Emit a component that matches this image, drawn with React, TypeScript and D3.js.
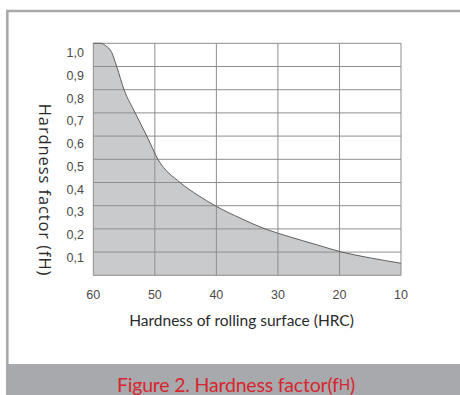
import React from "react";
import * as d3 from "d3";

const hrc = [60, 58.8, 58, 57, 56.2, 55.0, 53.2, 51.3, 49.5, 45.9, 43, 40.2, 36, 32.1, 28.1, 23.5, 19.6, 15, 10];
const factor = [1.0, 1.0, 0.99, 0.96, 0.9, 0.8, 0.7, 0.6, 0.5, 0.4, 0.345, 0.3, 0.245, 0.2, 0.166, 0.13, 0.1, 0.075, 0.052];
const xTicks = [60, 50, 40, 30, 20, 10];
const yTicks = [0.1, 0.2, 0.3, 0.4, 0.5, 0.6, 0.7, 0.8, 0.9, 1.0];
const yTickLabels = ["0,1", "0,2", "0,3", "0,4", "0,5", "0,6", "0,7", "0,8", "0,9", "1,0"];

const W = 460;
const H = 395;
const plot = { left: 93.3, right: 401, top: 43.3, bottom: 275.3 };

export default function App() {
  const x = d3.scaleLinear().domain([60, 10]).range([plot.left, plot.right]);
  const y = d3.scaleLinear().domain([0, 1]).range([plot.bottom, plot.top]);
  const yLabel = d3.scaleLinear().domain([0.1, 1.0]).range([258, 53]);
  const data = hrc.map((h, i) => ({ h, v: factor[i] }));

  const area = d3
    .area<{ h: number; v: number }>()
    .x((d) => x(d.h))
    .y0(y(0))
    .y1((d) => y(d.v))
    .curve(d3.curveMonotoneX);
  const line = d3
    .line<{ h: number; v: number }>()
    .x((d) => x(d.h))
    .y((d) => y(d.v))
    .curve(d3.curveMonotoneX);

  const gridColor = "#8e8e8e";
  const frameColor = "#a8a9ac";

  return (
    <svg
      width={W}
      height={H}
      style={{ position: "absolute", left: 0, top: 0, background: "#fff" }}
    >
      {/* frame */}
      <line x1={6} x2={W} y1={11} y2={11} stroke={frameColor} strokeWidth={2.6} />
      <line x1={7.3} x2={7.3} y1={10} y2={364} stroke={frameColor} strokeWidth={2.6} />
      <rect x={6} y={364} width={W - 6} height={H - 364} fill={frameColor} />

      {/* area */}
      <path d={area(data) || ""} fill="#c9cacc" />

      {/* grid */}
      {yTicks.concat([0]).map((t) => (
        <line
          key={"h" + t}
          x1={plot.left}
          x2={plot.right}
          y1={y(t)}
          y2={y(t)}
          stroke={gridColor}
          strokeWidth={1}
        />
      ))}
      {xTicks.map((t) => (
        <line
          key={"v" + t}
          x1={x(t)}
          x2={x(t)}
          y1={plot.top}
          y2={plot.bottom}
          stroke={gridColor}
          strokeWidth={1}
        />
      ))}

      {/* curve */}
      <path d={line(data) || ""} fill="none" stroke="#5f5f5f" strokeWidth={1} />

      {/* y tick labels */}
      {yTicks.map((t, i) => (
        <text
          key={"yl" + t}
          x={84}
          y={yLabel(t)}
          textAnchor="end"
          dominantBaseline="central"
          fontFamily="Liberation Sans, Arial, sans-serif"
          fontSize={12.5}
          fill="#4a4a4a"
        >
          {yTickLabels[i]}
        </text>
      ))}

      {/* x tick labels */}
      {xTicks.map((t) => (
        <text
          key={"xl" + t}
          x={x(t)}
          y={294.5}
          textAnchor="middle"
          dominantBaseline="central"
          fontFamily="Liberation Sans, Arial, sans-serif"
          fontSize={12.5}
          fill="#4a4a4a"
        >
          {t}
        </text>
      ))}

      {/* x axis title */}
      <text
        x={241.5}
        y={320}
        textAnchor="middle"
        dominantBaseline="central"
        fontFamily="Lato, sans-serif"
        fontSize={15.5}
        fill="#2a2a2a"
      >
        Hardness of rolling surface (HRC)
      </text>

      {/* y axis title */}
      <text
        transform={`translate(45,190) rotate(90)`}
        textAnchor="middle"
        dominantBaseline="central"
        fontFamily="Open Sans, sans-serif"
        fontSize={16.5}
        letterSpacing={0.9}
        fill="#2a2a2a"
      >
        Hardness factor (fH)
      </text>

      {/* caption */}
      <text
        x={236}
        y={384}
        textAnchor="middle"
        dominantBaseline="central"
        fontFamily="Lato, sans-serif"
        fontSize={19.5}
        letterSpacing={-0.2}
        fill="#d8252e"
      >
        Figure 2. Hardness factor(f<tspan fontSize={15}>H</tspan>)
      </text>
    </svg>
  );
}
